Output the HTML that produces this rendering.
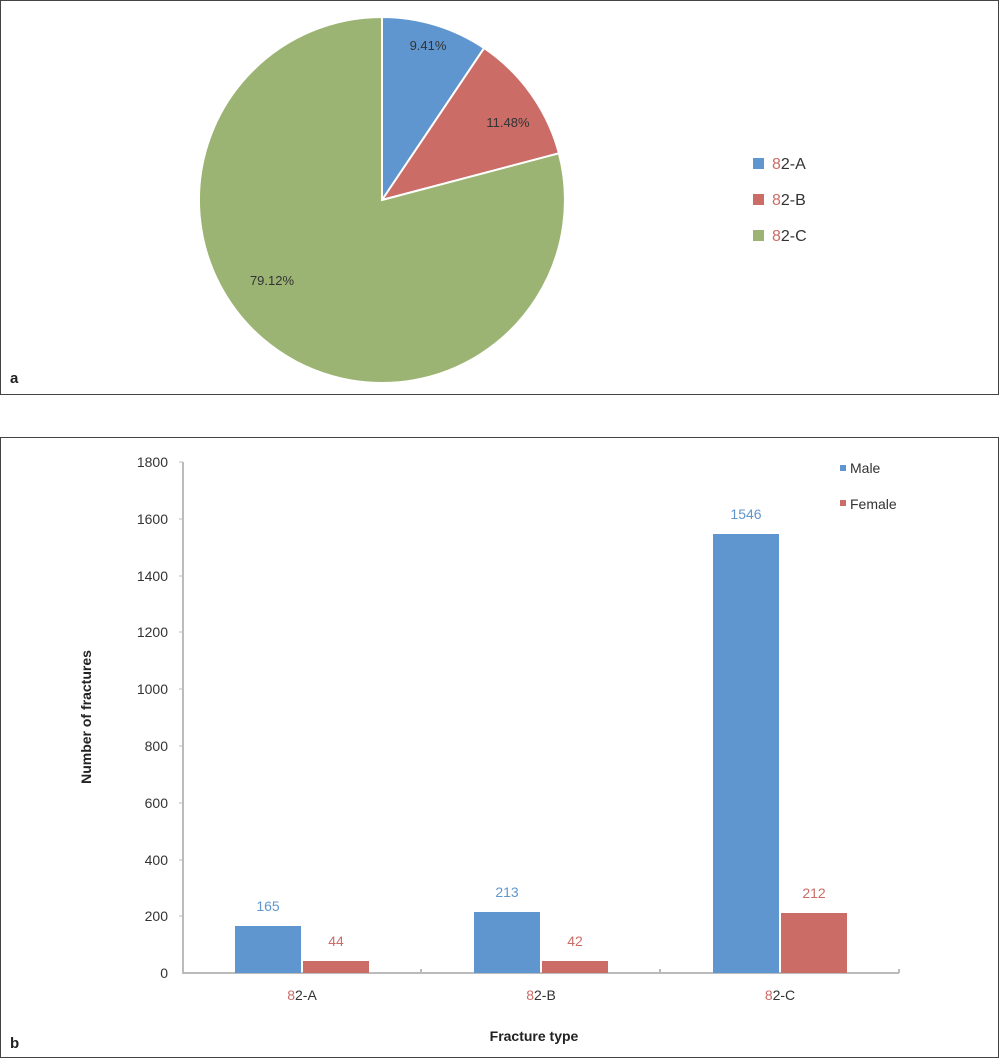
<!DOCTYPE html>
<html><head><meta charset="utf-8"><style>
body{margin:0;background:#fff;}
svg text{font-family:"Liberation Sans","DejaVu Sans",sans-serif;}
</style></head><body>
<svg width="1000" height="1059" xmlns="http://www.w3.org/2000/svg">
<rect x="0.5" y="0.5" width="998" height="394" fill="#fff" stroke="#444" stroke-width="1"/>
<rect x="0.5" y="437.5" width="998" height="620" fill="#fff" stroke="#444" stroke-width="1"/>
<!-- pie -->
<g stroke="#fff" stroke-width="2">
<path d="M382,200 L382,17 A183,183 0 0,1 484.1,48.1 Z" fill="#6096cf"/>
<path d="M382,200 L484.1,48.1 A183,183 0 0,1 558.9,153.3 Z" fill="#cb6c67"/>
<path d="M382,200 L558.9,153.3 A183,183 0 1,1 382,17 Z" fill="#9cb473"/>
</g>
<g font-size="13" fill="#333" text-anchor="middle">
<text x="428" y="50">9.41%</text>
<text x="508" y="127">11.48%</text>
<text x="272" y="285">79.12%</text>
</g>
<g font-size="16" fill="#333">
<rect x="753" y="158" width="11" height="11" fill="#6096cf"/><text x="772" y="169"><tspan fill="#cb6c67">8</tspan>2-A</text>
<rect x="753" y="194" width="11" height="11" fill="#cb6c67"/><text x="772" y="205"><tspan fill="#cb6c67">8</tspan>2-B</text>
<rect x="753" y="230" width="11" height="11" fill="#9cb473"/><text x="772" y="241"><tspan fill="#cb6c67">8</tspan>2-C</text>
</g>
<text x="10" y="383" font-size="15" font-weight="bold" fill="#222">a</text>
<!-- bar chart -->
<g stroke="#bbb" stroke-width="2">
<line x1="183" y1="462" x2="183" y2="973"/>
<line x1="182" y1="973" x2="899" y2="973"/>
<line x1="421" y1="969" x2="421" y2="973"/>
<line x1="660" y1="969" x2="660" y2="973"/>
<line x1="899" y1="969" x2="899" y2="973"/>
</g>
<g stroke="#bbb" stroke-width="1">
<line x1="179" y1="462" x2="183" y2="462"/><line x1="179" y1="519" x2="183" y2="519"/>
<line x1="179" y1="576" x2="183" y2="576"/><line x1="179" y1="632" x2="183" y2="632"/>
<line x1="179" y1="689" x2="183" y2="689"/><line x1="179" y1="746" x2="183" y2="746"/>
<line x1="179" y1="803" x2="183" y2="803"/><line x1="179" y1="860" x2="183" y2="860"/>
<line x1="179" y1="916" x2="183" y2="916"/>
</g>
<g font-size="14" fill="#333" text-anchor="end">
<text x="168" y="467">1800</text><text x="168" y="524">1600</text><text x="168" y="581">1400</text>
<text x="168" y="637">1200</text><text x="168" y="694">1000</text><text x="168" y="751">800</text>
<text x="168" y="808">600</text><text x="168" y="865">400</text><text x="168" y="921">200</text>
<text x="168" y="978">0</text>
</g>
<g fill="#6096cf">
<rect x="235" y="926" width="66" height="47"/>
<rect x="474" y="912" width="66" height="61"/>
<rect x="713" y="534" width="66" height="439"/>
</g>
<g fill="#cb6c67">
<rect x="303" y="961" width="66" height="12"/>
<rect x="542" y="961" width="66" height="12"/>
<rect x="781" y="913" width="66" height="60"/>
</g>
<g font-size="14" text-anchor="middle">
<text x="268" y="911" fill="#6096cf">165</text>
<text x="336" y="946" fill="#cb6c67">44</text>
<text x="507" y="897" fill="#6096cf">213</text>
<text x="575" y="946" fill="#cb6c67">42</text>
<text x="746" y="519" fill="#6096cf">1546</text>
<text x="814" y="898" fill="#cb6c67">212</text>
</g>
<g font-size="14" fill="#333" text-anchor="middle">
<text x="302" y="1000"><tspan fill="#cb6c67">8</tspan>2-A</text>
<text x="541" y="1000"><tspan fill="#cb6c67">8</tspan>2-B</text>
<text x="780" y="1000"><tspan fill="#cb6c67">8</tspan>2-C</text>
</g>
<text x="534" y="1041" font-size="14" font-weight="bold" fill="#222" text-anchor="middle">Fracture type</text>
<text transform="translate(91,717) rotate(-90)" font-size="14" font-weight="bold" fill="#222" text-anchor="middle">Number of fractures</text>
<rect x="840" y="465" width="6" height="6" fill="#6096cf"/>
<text x="850" y="473" font-size="14" fill="#333">Male</text>
<rect x="840" y="500" width="6" height="6" fill="#cb6c67"/>
<text x="850" y="509" font-size="14" fill="#333">Female</text>
<text x="10" y="1048" font-size="15" font-weight="bold" fill="#222">b</text>
</svg>
</body></html>
